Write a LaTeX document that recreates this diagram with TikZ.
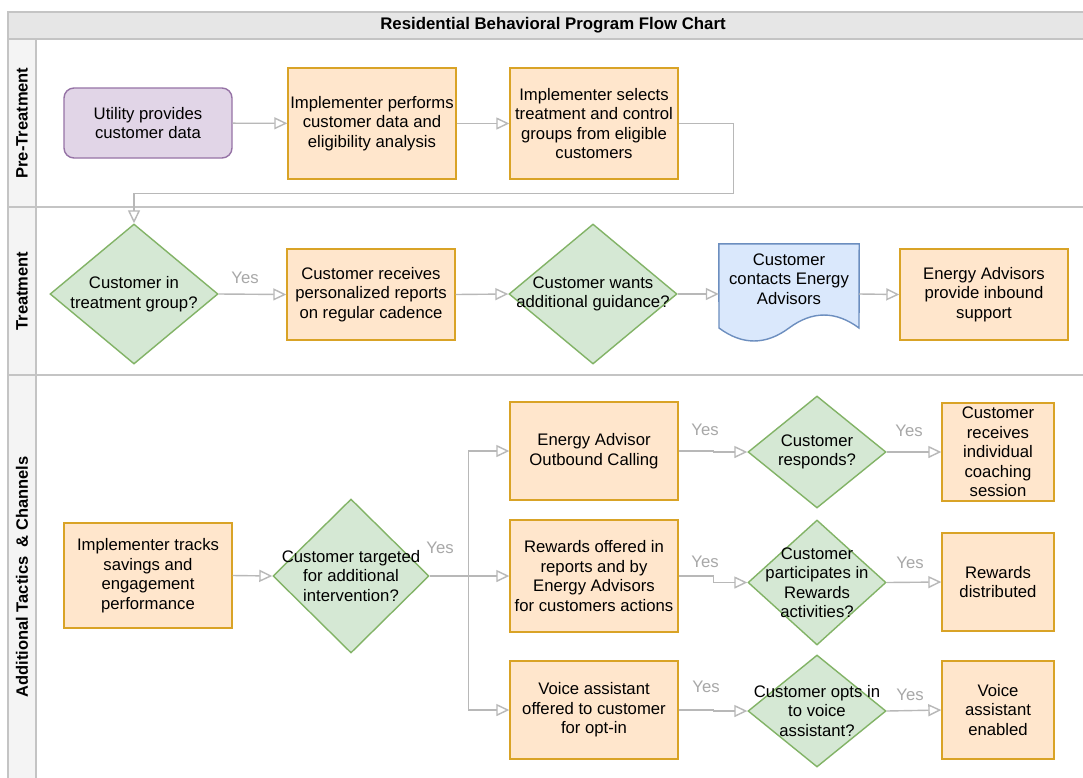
\documentclass[tikz,border=0pt]{standalone}
\usepackage{fontspec}
\setmainfont{Liberation Sans}
\usetikzlibrary{shapes.geometric,arrows.meta,calc}
\definecolor{orf}{HTML}{FFE6CC}
\definecolor{ord}{HTML}{D9A326}
\definecolor{grf}{HTML}{D5E8D4}
\definecolor{grd}{HTML}{82B366}
\definecolor{puf}{HTML}{E1D5E7}
\definecolor{pud}{HTML}{9673A6}
\definecolor{blf}{HTML}{DAE8FC}
\definecolor{bld}{HTML}{6C8EBF}
\definecolor{edgec}{HTML}{B8B8B8}
\definecolor{lanec}{HTML}{C4C4C4}
\definecolor{yesc}{HTML}{A8A8A8}
\definecolor{headf}{HTML}{E6E6E6}
\definecolor{colf}{HTML}{F4F4F4}
\begin{document}
\begin{tikzpicture}[x=1pt,y=-1pt,
  font=\fontsize{16.7}{19.5}\selectfont,
  box/.style={draw=ord,fill=orf,line width=1.4pt,align=center,inner sep=0pt,minimum width=168pt},
  pbox/.style={draw=pud,fill=puf,line width=1.4pt,align=center,inner sep=0pt,rounded corners=10pt,minimum width=168pt,minimum height=70pt},
  dia/.style={diamond,draw=grd,fill=grf,line width=1.4pt,inner sep=0pt},
  lab/.style={align=center,inner sep=0pt,font=\fontsize{16.7}{19.5}\selectfont},
  arr/.style={draw=edgec,line width=1.4pt,-{Triangle[open,length=13pt,width=12pt,line width=1.4pt]}},
  yes/.style={text=yesc,inner sep=0pt},
  lane/.style={draw=lanec,line width=2pt},
  lanelab/.style={rotate=90,font=\bfseries\fontsize{16.5}{19.5}\selectfont,inner sep=0pt}]
\useasboundingbox (0,0) rectangle (1083,777);
\clip (0,0) rectangle (1083,777);
% pool
\fill[white] (0,0) rectangle (1083,777);
\fill[headf] (8,12) rectangle (1095,39);
\fill[colf] (8,39) rectangle (36,790);
\draw[lane] (1095,12) -- (8,12) -- (8,790);
\draw[lane] (8,39) -- (1095,39);
\draw[lane] (8,207) -- (1095,207);
\draw[lane] (8,375) -- (1095,375);
\draw[lane] (36,39) -- (36,790);
\node[font=\bfseries\fontsize{16.8}{19.5}\selectfont,inner sep=0pt] (title) at (553,25.5) {Residential Behavioral Program Flow Chart};
\node[lanelab] (l1) at (22,123) {Pre-Treatment};
\node[lanelab] (l2) at (22,291) {Treatment};
\node[lanelab] (l3) at (22,577) {Additional Tactics \ \& Channels};
% pre-treatment
\node[pbox] (util) at (148,123) {Utility provides\\customer data};
\node[box,minimum height=111pt] (perf) at (372,123.5) {Implementer performs\\customer data and\\eligibility analysis};
\node[box,minimum height=111pt] (sel) at (594,123.5) {Implementer selects\\treatment and control\\groups from eligible\\customers};
% treatment
\node[dia,minimum width=168pt,minimum height=140pt,label={[lab]center:Customer in\\treatment group?}] (tg1) at (134,294) {};
\node[box,minimum height=91pt] (rec) at (371,294.5) {Customer receives\\personalized reports\\on regular cadence};
\node[dia,minimum width=168pt,minimum height=140pt,label={[lab]center:Customer wants\\additional guidance?}] (want) at (593,294) {};
\node[inner sep=0pt,minimum width=140pt,minimum height=100pt] (doc) at (789,294) {};
\fill[blf,draw=bld,line width=1.4pt] (doc.north west) -- (doc.north east) -- (859,328)
  .. controls (835.7,310.7) and (812.3,310.7) .. (789,328)
  .. controls (765.7,345.3) and (742.3,345.3) .. (719,328) -- cycle;
\node[lab] (doctext) at (789,279) {Customer\\contacts Energy\\Advisors};
\node[box,minimum height=91pt] (adv) at (984,294.5) {Energy Advisors\\provide inbound\\support};
% additional
\node[box,minimum height=105pt] (trk) at (148,575.5) {Implementer tracks\\savings and\\engagement\\performance};
\node[dia,minimum width=156pt,minimum height=154pt,label={[lab]center:Customer targeted\\for additional\\intervention?}] (tg) at (351,576) {};
\node[box,minimum height=98pt] (o1) at (594,451) {Energy Advisor\\Outbound Calling};
\node[box,minimum height=112pt] (o2) at (594,576) {Rewards offered in\\reports and by\\Energy Advisors\\for customers actions};
\node[box,minimum height=98pt] (o3) at (594,710) {Voice assistant\\offered to customer\\for opt-in};
\node[dia,minimum width=138pt,minimum height=112pt,label={[lab]center:Customer\\responds?}] (d1) at (817,452) {};
\node[dia,minimum width=138pt,minimum height=125pt,label={[lab]center:Customer\\participates in\\Rewards\\activities?}] (d2) at (817,582.5) {};
\node[dia,minimum width=138pt,minimum height=112pt,label={[lab]center:Customer opts in\\to voice\\assistant?}] (d3) at (817,711) {};
\node[box,minimum width=112pt,minimum height=98pt] (f1) at (998,452) {Customer\\receives\\individual\\coaching\\session};
\node[box,minimum width=112pt,minimum height=98pt] (f2) at (998,582) {Rewards\\distributed};
\node[box,minimum width=112pt,minimum height=98pt] (f3) at (998,710) {Voice\\assistant\\enabled};
% connectors
\draw[arr] (util) -- (perf);
\draw[arr] (perf) -- (sel);
\draw[arr] (sel.east) -- ++(55,0) -- ++(0,70) -| (tg1.north);
\draw[arr] (tg1.east) -- (rec.west);
\node[yes] (y1) at (245,278) {Yes};
\draw[arr] (rec.east) -- (want.west);
\draw[arr] (want.east) -- (doc.west);
\draw[arr] (doc.east) -- (adv.west);
\draw[arr] (trk.east) -- (tg.west);
\draw[draw=edgec,line width=1.4pt] (tg.east) -- ++(39,0) coordinate (br);
\draw[arr] (br) |- (o1.west);
\draw[arr] (br) -- (o2.west);
\draw[arr] (br) |- (o3.west);
\node[yes] (y2) at (440,548) {Yes};
\draw[arr] (o1.east) -- ++(35,0) |- (d1.west);
\draw[arr] (o2.east) -- ++(35,0) |- (d2.west);
\draw[arr] (o3.east) -- ++(35,0) |- (d3.west);
\node[yes] (y3) at (705,430) {Yes};
\node[yes] (y4) at (705,562) {Yes};
\node[yes] (y5) at (706,687) {Yes};
\draw[arr] (d1.east) -- (f1.west);
\draw[arr] (d2.east) -- (f2.west);
\draw[arr] (d3.east) -- (f3.west);
\node[yes] (y6) at (909,431) {Yes};
\node[yes] (y7) at (910,563) {Yes};
\node[yes] (y8) at (910,695) {Yes};
\end{tikzpicture}
\end{document}
